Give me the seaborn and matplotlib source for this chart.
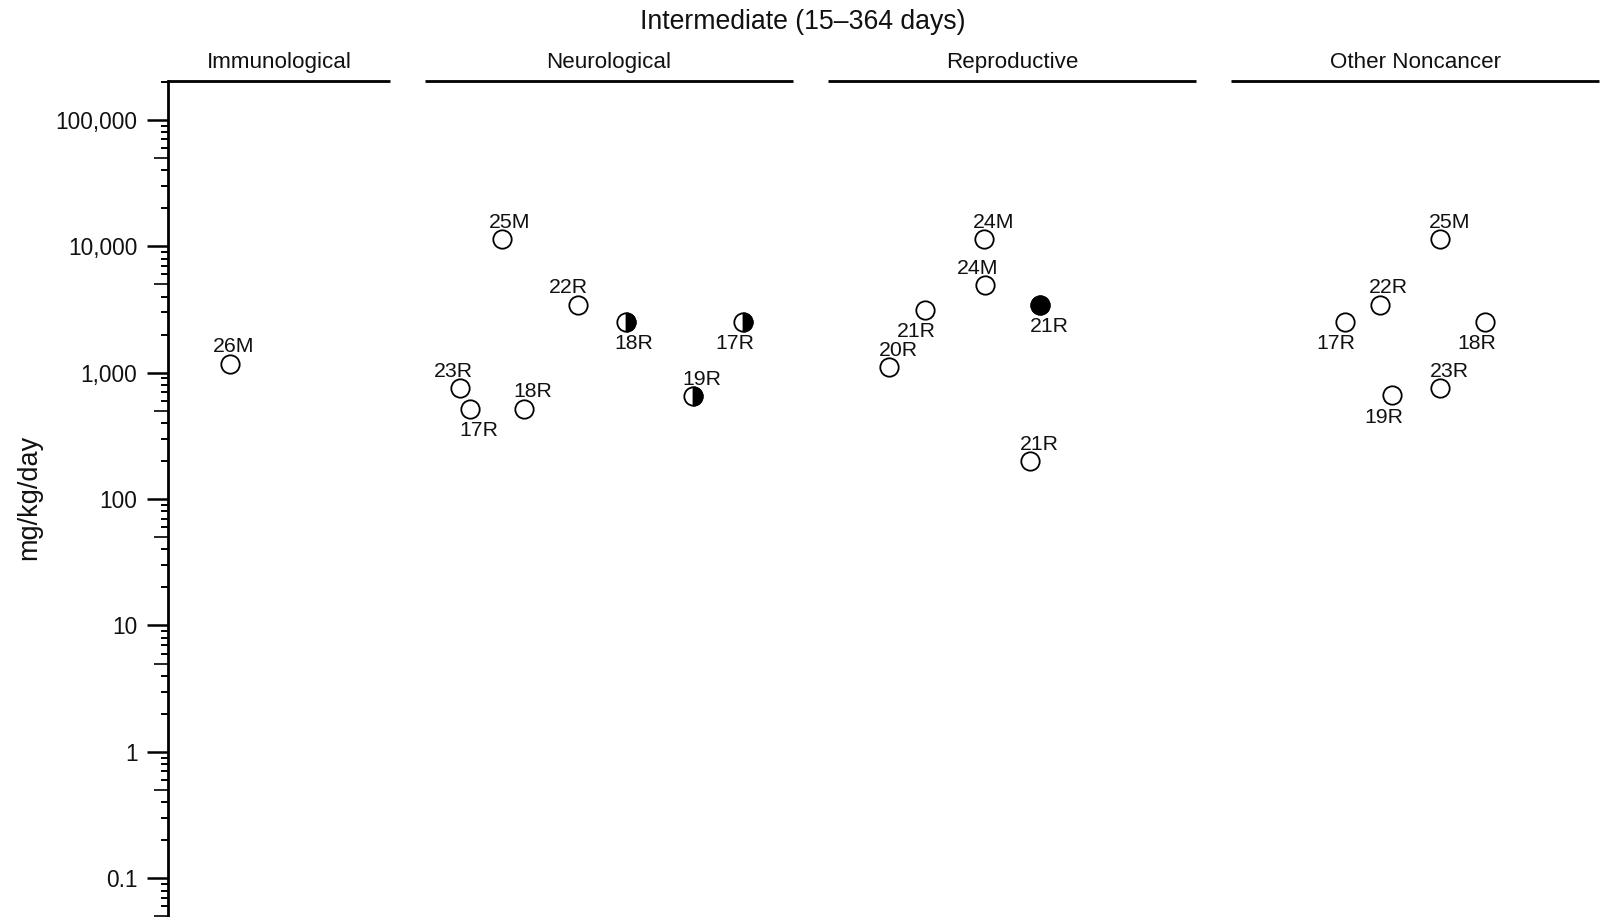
import numpy as np
import pandas as pd
import seaborn as sns
import matplotlib.pyplot as plt
from matplotlib.markers import MarkerStyle
from matplotlib.ticker import FixedLocator, FuncFormatter, NullFormatter

# categories (panels) and points
panels = ["Immunological", "Neurological", "Reproductive", "Other Noncancer"]

point_panel = (["Immunological"] + ["Neurological"] * 8 + ["Reproductive"] * 6
               + ["Other Noncancer"] * 6)
# position of each point inside its panel slot (0..1)
point_pos = [0.516,
             0.190, 0.379, 0.499, 0.790, 0.087, 0.112, 0.246, 0.664,
             0.388, 0.390, 0.241, 0.526, 0.152, 0.501,
             0.519, 0.370, 0.283, 0.630, 0.519, 0.400]
point_dose = [1180,
              11400, 3460, 2530, 2530, 750, 520, 520, 650,
              11400, 4900, 3150, 3460, 1100, 200,
              11400, 3460, 2530, 2530, 750, 665]
point_label = ["26M",
               "25M", "22R", "18R", "17R", "23R", "17R", "18R", "19R",
               "24M", "24M", "21R", "21R", "20R", "21R",
               "25M", "22R", "17R", "18R", "23R", "19R"]
# NOAEL = open, LSE = less serious LOAEL (half), SLOAEL = serious LOAEL (filled)
point_effect = ["NOAEL",
                "NOAEL", "NOAEL", "LSE", "LSE", "NOAEL", "NOAEL", "NOAEL", "LSE",
                "NOAEL", "NOAEL", "NOAEL", "SLOAEL", "NOAEL", "NOAEL",
                "NOAEL", "NOAEL", "NOAEL", "NOAEL", "NOAEL", "NOAEL"]

major_ticks = [0.1, 1, 10, 100, 1000, 10000, 100000]

# label placement (px): horizontal shift and above/below the marker
label_dx = [4,
            8, -9, 8, -8, -7, 9, 9, 9,
            9, -8, -9, 9, 9, 9,
            9, 8, -9, -8, 9, -8]
label_side = ["a",
              "a", "a", "b", "b", "a", "b", "a", "a",
              "a", "a", "b", "b", "a", "a",
              "a", "a", "b", "b", "a", "b"]

df = pd.DataFrame({"panel": point_panel, "pos": point_pos, "dose": point_dose,
                   "label": point_label, "effect": point_effect})
df["x"] = df["panel"].map({p: i for i, p in enumerate(panels)}) + df["pos"]

sns.set_style("white")
plt.rcParams["font.family"] = ["Liberation Sans", "DejaVu Sans"]

W, H = 1600, 917
fig = plt.figure(figsize=(16, 9.17), dpi=100)
ax_left, ax_top = 168, 81
ax = fig.add_axes([ax_left / W, 0, 1 - ax_left / W, 1 - ax_top / H])

slot_px, slot0_px, panel_w = 403, 22, 368 / 403
ax.set_xlim((ax_left - slot0_px) / slot_px, (W - slot0_px) / slot_px)
ax.set_yscale("log")
ax.set_ylim(0.0494, 203000)

kw = dict(s=175, linewidth=1.3, edgecolor="black", legend=False, zorder=3)
sns.scatterplot(data=df, x="x", y="dose", ax=ax, marker="o", color="white", **kw)
sns.scatterplot(data=df[df["effect"] == "LSE"], x="x", y="dose", ax=ax,
                marker=MarkerStyle("o", fillstyle="right"), color="black", **kw)
sns.scatterplot(data=df[df["effect"] == "SLOAEL"], x="x", y="dose", ax=ax,
                marker="o", color="black", **kw)

for (_, r), dx, side in zip(df.iterrows(), label_dx, label_side):
    dy = 11.5 if side == "a" else -27.5
    ax.annotate(r["label"], (r["x"], r["dose"]), xytext=(dx * 0.72, dy * 0.72),
                textcoords="offset points", ha="center", va="baseline",
                fontsize=15.3, color="#111111")

# panel headers
tr = ax.get_xaxis_transform()
for i, name in enumerate(panels):
    x0 = max(i, ax.get_xlim()[0])
    x1 = i + panel_w
    ax.plot([x0, x1], [1, 1], transform=tr, clip_on=False, color="black",
            lw=2, solid_capstyle="butt")
    ax.annotate(name, ((x0 + x1) / 2, 1), xycoords=tr, xytext=(0, 9.2),
                textcoords="offset points", ha="center", va="baseline",
                fontsize=16.1, color="#111111")

# y axis
sns.despine(ax=ax, top=True, right=True, bottom=True)
ax.spines["left"].set_linewidth(2)
ax.spines["left"].set_color("black")
ax.set_xticks([])
ax.set_xlabel("")
ax.yaxis.set_major_locator(FixedLocator(major_ticks))
ax.yaxis.set_major_formatter(FuncFormatter(lambda v, p: f"{v:,.0f}" if v >= 1 else f"{v:g}"))
minors = [d * 10.0 ** k for k in range(-2, 6) for d in (2, 3, 4, 6, 7, 8, 9)]
ax.yaxis.set_minor_locator(FixedLocator(minors))
ax.yaxis.set_minor_formatter(NullFormatter())
ax.tick_params(axis="y", which="major", length=15, width=1.8, direction="out",
               pad=7, labelsize=16.3, color="black", labelcolor="#111111", left=True)
ax.tick_params(axis="y", which="minor", length=5, width=1.4, direction="out",
               color="black", left=True)

sec = ax.secondary_yaxis("left")
sec.spines["left"].set_visible(False)
sec.set_yticks([5 * 10.0 ** k for k in range(-2, 5)])
sec.yaxis.set_minor_locator(FixedLocator([]))
sec.set_yticklabels([])
sec.tick_params(axis="y", which="major", length=10, width=1.4, direction="out")

ax.set_ylabel("mg/kg/day", fontsize=19.5, color="#111111")
ax.yaxis.set_label_coords(-0.088, 0.502)

fig.text(0.502, 1 - 29 / H, "Intermediate (15\u2013364 days)", ha="center",
         va="baseline", fontsize=19.2, color="#111111")

fig.savefig("out.png", dpi=100)
